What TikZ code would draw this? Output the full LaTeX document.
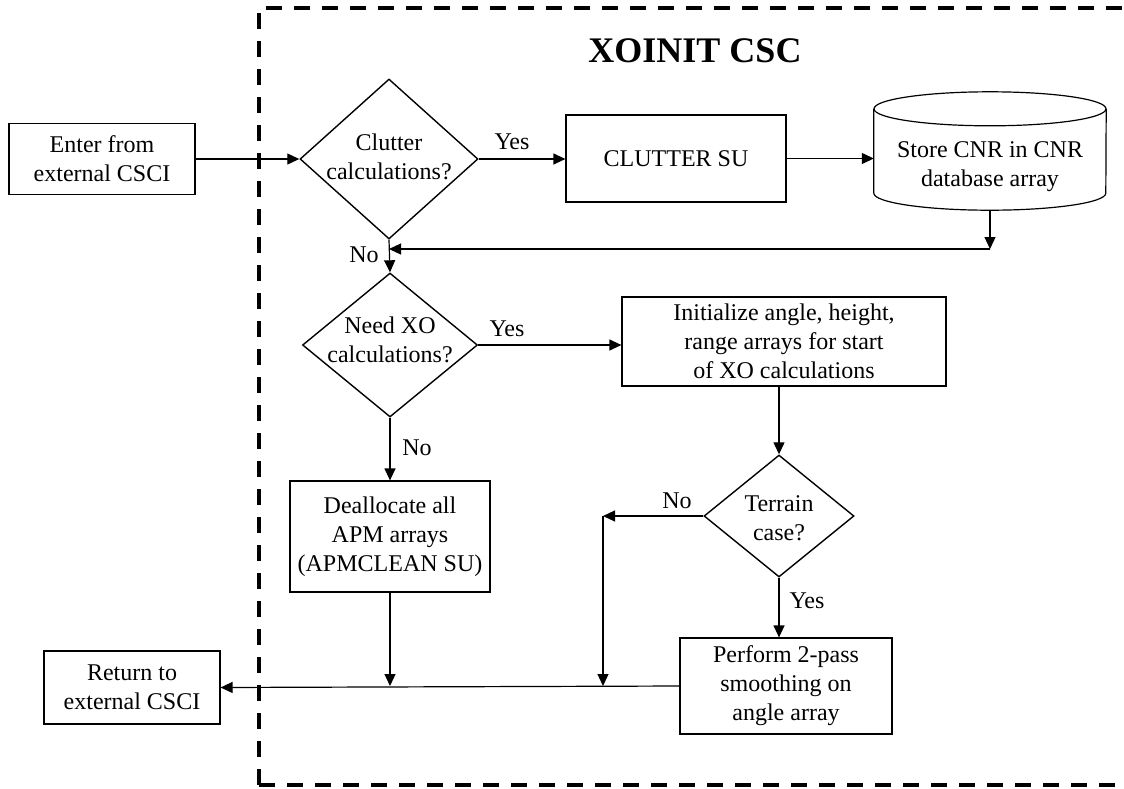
\documentclass[tikz,border=0pt]{standalone}
\usepackage{fontspec}
\setmainfont{Liberation Serif}
\usetikzlibrary{shapes.geometric,arrows.meta,calc}
\begin{document}
\begin{tikzpicture}[x=1pt,y=-1pt,
  txt/.style={font=\fontsize{24pt}{29pt}\selectfont, align=center, inner sep=0pt},
  box/.style={draw, line width=1.2pt, txt},
  dia/.style={draw, diamond, line width=1.4pt, inner sep=0pt},
  arr/.style={line width=1.2pt, -{Triangle[length=12pt,width=11pt]}},
  lbl/.style={txt},
  frame/.style={line width=4pt, dash pattern=on 16pt off 12pt}]
\useasboundingbox (0,0) rectangle (1124,788);
\fill[white] (0,0) rectangle (1124,788);

% CSC boundary
\draw[frame] (259,785) -- (259,8) -- (1140,8);
\draw[frame] (259,785) -- (1140,785);
\node[font=\fontsize{36pt}{40pt}\selectfont\bfseries] (title) at (695,51) {XOINIT CSC};

% external entry / exit
\node[box, minimum width=186pt, minimum height=71pt] (enter) at (102,159) {Enter from\\external CSCI};
\node[box, minimum width=176pt, minimum height=73pt] (ret) at (132,687.5) {Return to\\external CSCI};

% clutter branch
\node[dia, minimum width=178pt, minimum height=160pt,
      label={[txt,yshift=2pt]center:{Clutter\\calculations?}}] (clutter) at (389,159) {};
\node[box, minimum width=220pt, minimum height=87pt] (clutsu) at (676,158.5) {CLUTTER SU};
\node[minimum width=232pt, minimum height=84pt, inner sep=0pt,
      label={[txt,yshift=-15.5pt]center:{Store CNR in CNR\\database array}}] (cnr) at (990,151) {};
\draw[line width=1.2pt] (cnr.north west) -- (cnr.south west)
  arc[start angle=180, end angle=360, x radius=116pt, y radius=17pt] -- (cnr.north east);
\draw[line width=1.2pt] (cnr.north) ellipse [x radius=116pt, y radius=17pt];

% XO branch
\node[dia, minimum width=175pt, minimum height=144pt,
      label={[txt,yshift=5pt]center:{Need XO\\calculations?}}] (needxo) at (390,345) {};
\node[box, minimum width=324pt, minimum height=89pt] (init) at (784,341.5)
  {Initialize angle, height,\\range arrays for start\\of XO calculations};
\node[box, minimum width=200pt, minimum height=111pt] (dealloc) at (390,536.5)
  {Deallocate all\\APM arrays\\(APMCLEAN SU)};
\node[dia, minimum width=150pt, minimum height=122pt,
      label={[txt,yshift=-2pt]center:{Terrain\\case?}}] (terrain) at (779,516) {};
\node[box, minimum width=212pt, minimum height=96pt] (perform) at (786,686)
  {Perform 2-pass\\smoothing on\\angle array};

% branch labels
\node[lbl] (yes1) at (512,142) {Yes};
\node[lbl] (no1) at (364,255) {No};
\node[lbl] (yes2) at (507,328.5) {Yes};
\node[lbl] (no2) at (417,447.5) {No};
\node[lbl] (no3) at (677,501) {No};
\node[lbl] (yes3) at (807,601) {Yes};

% junction points
\coordinate (cnrb) at ([yshift=-17pt]cnr.south);
\coordinate (m1) at (990,249);
\coordinate (j1) at (clutter.south |- m1);
\coordinate (c1) at (603,516);
\coordinate (j2) at (dealloc.south |- perform.west);
\coordinate (j3) at (c1 |- perform.west);

% connectors
\draw[arr] (enter.east) -- (clutter.west);
\draw[arr] (clutter.east) -- (clutter.east -| clutsu.west);
\draw[arr] (clutsu.east) -- (clutsu.east -| cnr.west);
\draw[arr] (cnrb) -- (m1);
\draw[arr] (m1) -- (j1);
\draw[arr] (clutter.south) -- (needxo.north);
\draw[arr] (needxo.east) -- (needxo.east -| init.west);
\draw[arr] (needxo.south) -- (dealloc.north);
\draw[arr] (dealloc.south) -- (j2);
\draw[arr] (terrain.north |- init.south) -- (terrain.north);
\draw[arr] (terrain.west) -- (c1);
\draw[arr] (c1) -- (j3);
\draw[arr] (terrain.south) -- (terrain.south |- perform.north);
\draw[arr] (perform.west) -- (ret.east);
\end{tikzpicture}
\end{document}
